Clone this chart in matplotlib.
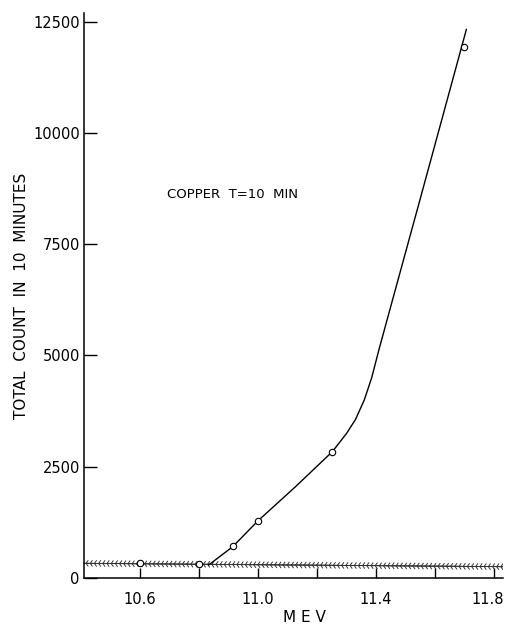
import matplotlib
matplotlib.use("Agg")
import matplotlib.pyplot as plt
import matplotlib.patheffects as pe
from matplotlib.transforms import ScaledTranslation

# measured points
mev = [10.6, 10.8, 10.914, 11.0, 11.252, 11.698]
counts = [344, 321, 711, 1284, 2838, 11934]

# hand-drawn fitted curve
curve_x = [10.832, 10.914, 11.0, 11.125, 11.252, 11.30, 11.33, 11.36, 11.385, 11.41, 11.473, 11.546, 11.706]
curve_y = [290, 703, 1287, 2040, 2840, 3250, 3560, 4000, 4500, 5140, 6667, 8433, 12325]

# background level (hatched line)
bg_x = [10.41, 11.83]
bg_y = [330, 254]

xticks = [10.6, 10.8, 11.0, 11.2, 11.4, 11.6, 11.8]
xticklabels = ["10.6", "", "11.0", "", "11.4", "", "11.8"]
yticks = [0, 2500, 5000, 7500, 10000, 12500]
yticklabels = ["0", "2500", "5000", "7500", "10000", "12500"]

plt.rcParams['font.family'] = ['DejaVu Sans']

fig = plt.figure(figsize=(5.05, 6.25), dpi=100)
ax = fig.add_axes([84/505, 1-578/625, (503-84)/505, (578-13)/625])

ax.plot(bg_x, bg_y, color='#333333', lw=0.6,
        path_effects=[pe.withTickedStroke(spacing=3.0, angle=55, length=0.8, linewidth=0.7),
                      pe.withTickedStroke(spacing=3.0, angle=-55, length=0.8, linewidth=0.7),
                      pe.Normal()])
ax.plot(curve_x, curve_y, color='black', lw=1.0, solid_capstyle='round', solid_joinstyle='round')
ax.plot(mev, counts, linestyle='none', marker='o', markersize=4.6,
        markerfacecolor='white', markeredgecolor='black', markeredgewidth=0.8, zorder=5)

ax.set_xlim(10.41, 11.83)
ax.set_ylim(0, 12691)

for s in ['top', 'right']:
    ax.spines[s].set_visible(False)
for s in ['left', 'bottom']:
    ax.spines[s].set_linewidth(1.1)

ax.set_xticks(xticks)
ax.set_xticklabels(xticklabels)
ax.set_yticks(yticks)
ax.set_yticklabels(yticklabels)
ax.tick_params(axis='x', direction='in', length=7, width=1.0, pad=10, labelsize=10.5)
ax.tick_params(axis='y', direction='in', length=9, width=1.0, pad=3, labelsize=10.5)

last = ax.get_xticklabels()[-1]
last.set_transform(last.get_transform() + ScaledTranslation(-6/100, 0, fig.dpi_scale_trans))

fig.text(22/505, 1-296/625, "TOTAL  COUNT  IN  10  MINUTES", rotation=90,
         ha='center', va='center', fontsize=11)
fig.text(304/505, 1-618/625, "M E V", ha='center', va='center', fontsize=11)
ax.text(10.69, 8625, "COPPER  T=10  MIN", ha='left', va='center', fontsize=9.5)

fig.savefig("out.png", dpi=100)
